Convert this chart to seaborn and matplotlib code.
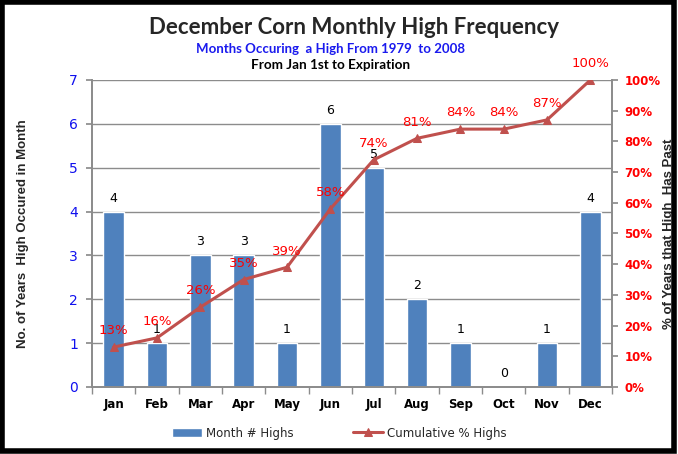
import numpy as np
import pandas as pd
import matplotlib
matplotlib.use('Agg')
import matplotlib.pyplot as plt
import seaborn as sns
from matplotlib.patches import Rectangle
from matplotlib.ticker import FixedLocator, PercentFormatter

# data
months = ['Jan', 'Feb', 'Mar', 'Apr', 'May', 'Jun', 'Jul', 'Aug', 'Sep', 'Oct', 'Nov', 'Dec']
highs = [4, 1, 3, 3, 1, 6, 5, 2, 1, 0, 1, 4]
cum_pct = [13, 16, 26, 35, 39, 58, 74, 81, 84, 84, 87, 100]

sns.set_theme(style='white')
plt.rcParams['font.family'] = ['DejaVu Sans']

BLUE_BAR = '#4F81BD'
RED_LINE = '#C0504D'
GRID = '#8c8c8c'
NARROW = ['Liberation Sans Narrow', 'Liberation Sans', 'DejaVu Sans']

df = pd.DataFrame({'month': months, 'highs': highs, 'cum': cum_pct})

fig = plt.figure(figsize=(6.78, 4.54), dpi=100)
ax = fig.add_axes([0.1357, 0.1476, 0.767, 0.6762])

sns.barplot(data=df, x='month', y='highs', color=BLUE_BAR, width=0.47,
            saturation=1, ax=ax, label='Month # Highs', zorder=2)
if ax.get_legend() is not None:
    ax.get_legend().remove()
ax.set_ylim(0, 7)
ax.set_xlim(-0.5, 11.5)
ax.set_yticks(range(8))
ax.yaxis.grid(True, color=GRID, lw=1, zorder=0)
ax.set_axisbelow(True)
ax.spines['top'].set_visible(False)
for s in ['left', 'bottom', 'right']:
    ax.spines[s].set_color(GRID)
ax.tick_params(axis='y', labelsize=10, length=4, left=True, color=GRID, pad=6)
for t in ax.get_yticklabels():
    t.set_color('#1010ee')
ax.tick_params(axis='x', length=0, labelsize=8.5, pad=8)
for t in ax.get_xticklabels():
    t.set_fontweight('bold')
    t.set_color('black')
ax.xaxis.set_minor_locator(FixedLocator(np.arange(-0.5, 12, 1)))
ax.tick_params(axis='x', which='minor', length=5, color=GRID, bottom=True)
ax.set_xlabel('')
ax.set_ylabel('No. of Years  High Occured in Month', fontsize=9.5, fontweight='bold',
              family=NARROW)
ax.yaxis.set_label_coords(-0.122, 0.5)

for i, v in enumerate(highs):
    ax.annotate(str(v), (i, v), xytext=(0, 5), textcoords='offset points',
                ha='center', va='bottom', fontsize=9, color='black')

ax2 = ax.twinx()
sns.lineplot(x=np.arange(12), y=cum_pct, ax=ax2, color=RED_LINE, lw=2.2,
             marker='^', markersize=6, markeredgecolor=RED_LINE,
             label='Cumulative % Highs', legend=False, zorder=3)
ax2.set_ylim(0, 100)
ax2.set_yticks(range(0, 101, 10))
ax2.yaxis.set_major_formatter(PercentFormatter(decimals=0))
ax2.tick_params(axis='y', labelsize=8.5, length=4, right=True, color=GRID, pad=5)
for t in ax2.get_yticklabels():
    t.set_color('#ff0000')
    t.set_fontweight('bold')
ax2.spines['top'].set_visible(False)
for s in ['left', 'bottom', 'right']:
    ax2.spines[s].set_color(GRID)
ax2.set_ylabel('% of Years that High  Has Past', fontsize=9.5, fontweight='bold',
               family=NARROW)
ax2.yaxis.set_label_coords(1.098, 0.5)
ax2.grid(False)

for i, v in enumerate(cum_pct):
    ax2.annotate(f'{v}%', (i, v), xytext=(0, 7), textcoords='offset points',
                 ha='center', va='bottom', fontsize=9.5, color='#ff0000')

# legend below plot
h1, l1 = ax.get_legend_handles_labels()
h2, l2 = ax2.get_legend_handles_labels()
fig.legend(h1 + h2, l1 + l2, loc='center', bbox_to_anchor=(0.5, 0.046),
           ncol=2, frameon=False, fontsize=8.5, columnspacing=5,
           handlelength=2.6, handletextpad=0.3)

fig.text(0.522, 0.94, 'December Corn Monthly High Frequency', ha='center', va='center',
         fontsize=16, fontweight='bold', family=['Lato', 'DejaVu Sans'])
fig.text(0.488, 0.893, 'Months Occuring  a High From 1979  to 2008', ha='center', va='center',
         fontsize=9.5, fontweight='bold', color='#1a1aee', family=['Lato', 'DejaVu Sans'])
fig.text(0.487, 0.857, 'From Jan 1st to Expiration', ha='center', va='center',
         fontsize=9.7, fontweight='bold', color='black', family=['Lato', 'DejaVu Sans'])

fig.patches.append(Rectangle((0.003, 0.006), 0.991, 0.99, transform=fig.transFigure,
                             fill=False, edgecolor='black', lw=4, zorder=10))

fig.savefig('out.png', dpi=100)
